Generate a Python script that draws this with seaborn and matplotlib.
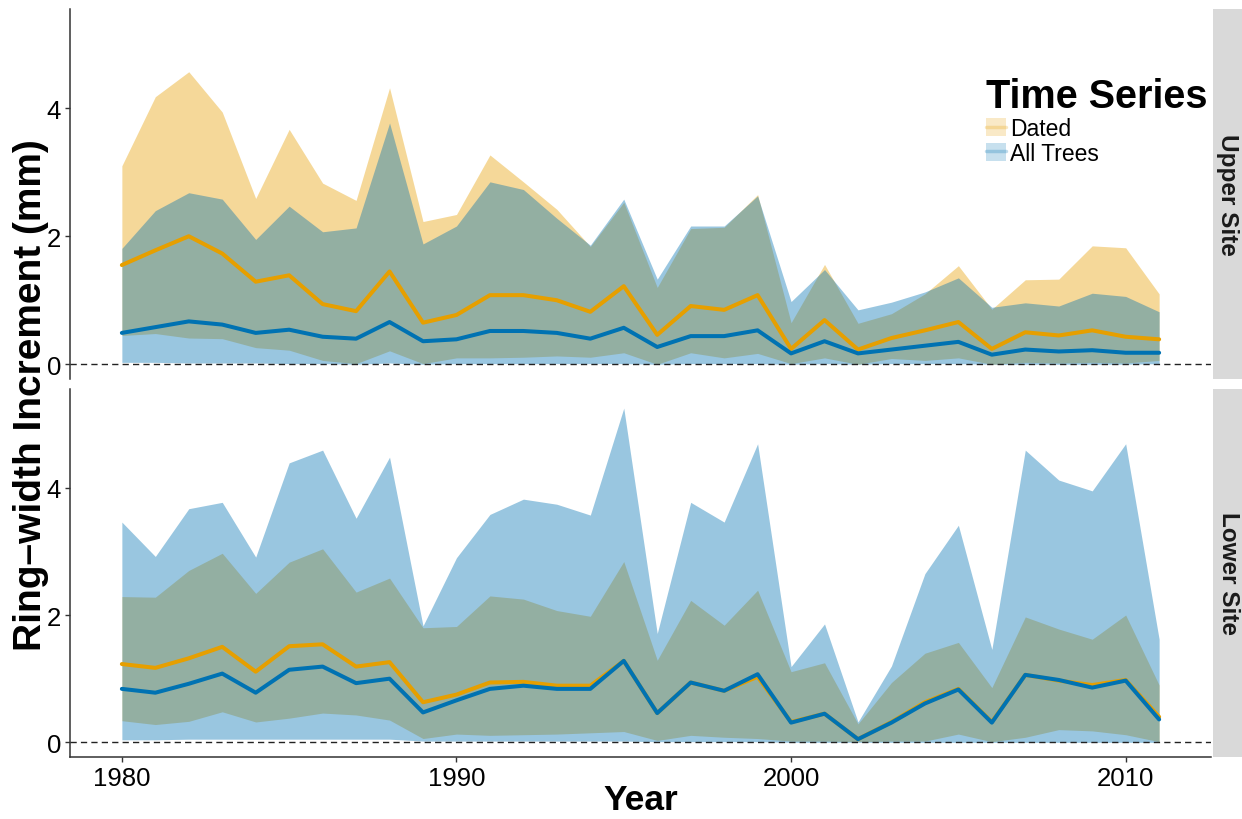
import numpy as np
import pandas as pd
import matplotlib
matplotlib.use("Agg")
import matplotlib.pyplot as plt
from matplotlib.patches import Patch, Rectangle
from matplotlib.lines import Line2D
import seaborn as sns

years = list(range(1980, 2012))

# Upper site: mean ring width and spread for dated trees and all trees
upper_dated_mean = [1.55, 1.78, 2.00, 1.73, 1.29, 1.39, 0.94, 0.83, 1.45, 0.65, 0.77, 1.08, 1.08, 1.00, 0.82, 1.22,
                    0.46, 0.91, 0.85, 1.08, 0.24, 0.69, 0.23, 0.41, 0.53, 0.66, 0.24, 0.50, 0.45, 0.53, 0.43, 0.39]
upper_dated_hi = [3.10, 4.18, 4.57, 3.94, 2.59, 3.67, 2.83, 2.56, 4.32, 2.23, 2.34, 3.27, 2.85, 2.42, 1.84, 2.53,
                  1.20, 2.12, 2.14, 2.65, 0.65, 1.56, 0.64, 0.79, 1.10, 1.54, 0.86, 1.32, 1.33, 1.85, 1.82, 1.10]
upper_dated_lo = [0.45, 0.48, 0.41, 0.40, 0.26, 0.22, 0.06, 0.01, 0.21, 0.01, 0.10, 0.10, 0.11, 0.13, 0.11, 0.18,
                  0.00, 0.18, 0.10, 0.17, 0.01, 0.10, 0.00, 0.09, 0.06, 0.10, 0.00, 0.03, 0.02, 0.03, 0.02, 0.06]
upper_all_mean = [0.49, 0.58, 0.67, 0.62, 0.49, 0.54, 0.43, 0.40, 0.66, 0.36, 0.39, 0.52, 0.52, 0.49, 0.40, 0.57,
                  0.27, 0.44, 0.44, 0.53, 0.17, 0.36, 0.17, 0.23, 0.29, 0.35, 0.15, 0.23, 0.20, 0.22, 0.18, 0.18]
upper_all_hi = [1.81, 2.40, 2.68, 2.58, 1.95, 2.47, 2.07, 2.13, 3.77, 1.88, 2.16, 2.85, 2.73, 2.28, 1.86, 2.58,
                1.33, 2.16, 2.16, 2.63, 0.98, 1.48, 0.85, 0.97, 1.13, 1.35, 0.89, 0.96, 0.91, 1.11, 1.06, 0.82]
upper_all_lo = [0.03, 0.03, 0.02, 0.02, 0.02, 0.01, 0.01, 0.00, 0.02, 0.00, 0.01, 0.01, 0.01, 0.01, 0.01, 0.01,
                0.00, 0.01, 0.01, 0.01, 0.00, 0.01, 0.00, 0.01, 0.01, 0.01, 0.00, 0.00, 0.00, 0.00, 0.00, 0.01]

# Lower site
lower_dated_mean = [1.23, 1.17, 1.32, 1.50, 1.11, 1.51, 1.54, 1.19, 1.26, 0.63, 0.75, 0.94, 0.95, 0.89, 0.89, 1.28,
                    0.46, 0.94, 0.81, 1.03, 0.32, 0.45, 0.05, 0.32, 0.63, 0.84, 0.32, 1.06, 0.97, 0.90, 0.98, 0.40]
lower_dated_hi = [2.29, 2.28, 2.70, 2.97, 2.34, 2.83, 3.04, 2.36, 2.58, 1.80, 1.82, 2.30, 2.25, 2.07, 1.98, 2.84,
                  1.29, 2.23, 1.84, 2.39, 1.11, 1.25, 0.29, 0.94, 1.40, 1.57, 0.86, 1.97, 1.78, 1.62, 2.00, 0.90]
lower_dated_lo = [0.34, 0.28, 0.33, 0.48, 0.32, 0.38, 0.46, 0.43, 0.35, 0.06, 0.13, 0.11, 0.12, 0.13, 0.15, 0.17,
                  0.03, 0.11, 0.08, 0.06, 0.02, 0.02, 0.01, 0.02, 0.02, 0.13, 0.01, 0.08, 0.20, 0.18, 0.12, 0.01]
lower_all_mean = [0.84, 0.78, 0.92, 1.08, 0.78, 1.14, 1.19, 0.93, 1.00, 0.47, 0.66, 0.84, 0.89, 0.84, 0.84, 1.28,
                  0.46, 0.94, 0.81, 1.07, 0.31, 0.45, 0.05, 0.31, 0.61, 0.83, 0.31, 1.06, 0.98, 0.86, 0.97, 0.36]
lower_all_hi = [3.46, 2.92, 3.67, 3.77, 2.91, 4.39, 4.59, 3.52, 4.48, 1.83, 2.90, 3.58, 3.82, 3.74, 3.57, 5.25,
                1.71, 3.77, 3.46, 4.69, 1.19, 1.86, 0.32, 1.20, 2.65, 3.41, 1.46, 4.59, 4.12, 3.95, 4.69, 1.62]
lower_all_lo = [0.04, 0.04, 0.05, 0.05, 0.05, 0.05, 0.05, 0.05, 0.05, 0.02, 0.02, 0.02, 0.02, 0.02, 0.02, 0.02,
                0.01, 0.01, 0.01, 0.01, 0.00, 0.00, 0.00, 0.00, 0.00, 0.00, 0.00, 0.00, 0.00, 0.00, 0.00, 0.00]

sites = ["Upper Site", "Lower Site"]
series_names = ["Dated", "All Trees"]
palette = {"Dated": "#E69F00", "All Trees": "#0072B2"}

frames = []
for site, blocks in zip(sites, [
    {"Dated": (upper_dated_mean, upper_dated_lo, upper_dated_hi),
     "All Trees": (upper_all_mean, upper_all_lo, upper_all_hi)},
    {"Dated": (lower_dated_mean, lower_dated_lo, lower_dated_hi),
     "All Trees": (lower_all_mean, lower_all_lo, lower_all_hi)},
]):
    for name in series_names:
        m, lo, hi = blocks[name]
        frames.append(pd.DataFrame({"Year": years, "mean": m, "lo": lo, "hi": hi,
                                    "Series": name, "Site": site}))
df = pd.concat(frames, ignore_index=True)

sns.set_theme(style="ticks")
plt.rcParams["font.family"] = ["Liberation Sans", "DejaVu Sans"]
plt.rcParams["text.color"] = "black"
plt.rcParams["axes.labelcolor"] = "black"

W, H = 1242, 820
fig = plt.figure(figsize=(W / 100, H / 100), dpi=100)

def fx(px):
    return px / W

def fy(py):
    return 1 - py / H

panel_left, panel_right = 70, 1211
panel_rows = [(10, 380), (390, 758)]
axes = []
for i, (top, bot) in enumerate(panel_rows):
    ax = fig.add_axes([fx(panel_left), fy(bot), fx(panel_right - panel_left), (bot - top) / H],
                      sharex=axes[0] if axes else None, sharey=axes[0] if axes else None)
    axes.append(ax)

for ax, site, (top, bot) in zip(axes, sites, panel_rows):
    sub = df[df["Site"] == site]
    for name in series_names:
        s = sub[sub["Series"] == name]
        ax.fill_between(s["Year"], s["lo"], s["hi"], color=palette[name], alpha=0.4, linewidth=0)
    sns.lineplot(data=sub, x="Year", y="mean", hue="Series", hue_order=series_names,
                 palette=palette, linewidth=2.9, ax=ax, legend=False)
    ax.axhline(0, color="#222222", linestyle=(0, (4.5, 3)), linewidth=1.0, zorder=1)
    ax.set_xlim(1978.45, 2012.55)
    ax.set_ylim(-0.23, 5.55)
    ax.set_yticks([0, 2, 4])
    ax.set_xticks([1980, 1990, 2000, 2010])
    ax.set_xlabel("")
    ax.set_ylabel("")
    for side in ["top", "right"]:
        ax.spines[side].set_visible(False)
    ax.spines["left"].set_color("#333333")
    ax.spines["left"].set_linewidth(1.1)
    ax.spines["bottom"].set_color("#333333")
    ax.spines["bottom"].set_linewidth(1.1)
    ax.tick_params(axis="both", labelsize=18.5, colors="#333333", labelcolor="black",
                   length=3.5, width=1.0, pad=3)

    # facet strip on the right
    fig.patches.append(Rectangle((fx(1213), fy(bot)), 1 - fx(1213), (bot - top) / H,
                                 transform=fig.transFigure, facecolor="#D9D9D9",
                                 edgecolor="none", zorder=0))
    fig.text(fx(1228), fy((top + bot) / 2), site, rotation=-90, ha="center", va="center",
             fontsize=17.5, fontweight="bold", color="#1A1A1A")

axes[0].spines["bottom"].set_visible(False)
axes[0].tick_params(axis="x", bottom=False, labelbottom=False)

fig.text(fx(641), fy(810), "Year", ha="center", va="baseline", fontsize=25.5, fontweight="bold")
fig.text(fx(31), fy(395), "Ring–width Increment (mm)", rotation=90, ha="center", va="center",
         fontsize=28, fontweight="bold")

handles = [(Patch(facecolor=palette[n], alpha=0.22, edgecolor="none"),
            Line2D([], [], color=palette[n], linewidth=2.5, alpha=0.25)) for n in series_names]
leg = axes[0].legend(handles, series_names, title="Time Series", loc="upper left",
                     bbox_to_anchor=((984 - 70) / 1141, (380 - 76) / 370), borderaxespad=0, frameon=True,
                     fontsize=16.5, title_fontproperties={"weight": "bold", "size": 28.5},
                     handlelength=0.85, handleheight=0.85, handletextpad=0.2,
                     labelspacing=0.08, borderpad=0.1, alignment="left")
leg.get_frame().set_facecolor("white")
leg.get_frame().set_edgecolor("none")
leg.get_frame().set_alpha(1)
leg.set_zorder(10)

fig.savefig("out.png", dpi=100)
